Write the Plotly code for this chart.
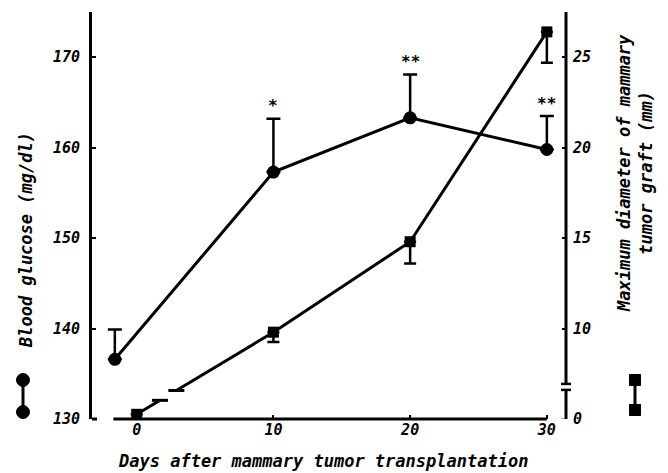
import plotly.graph_objects as go

# ---------------- data ----------------
glucose_days = [-1.6, 10, 20, 30]
glucose_mean = [136.6, 157.3, 163.3, 159.8]          # mg/dl
glucose_sem = [3.3, 5.9, 4.8, 3.7]
signif_marks = ["", "*", "**", "**"]

tumor_days = [0, 10, 20, 30]
tumor_mean = [0.26, 9.8, 14.8, 26.4]                  # mm
tumor_sem = [0.0, 0.55, 1.2, 1.7]

x_tick_vals = [0, 10, 20, 30]
y_tick_vals = [130, 140, 150, 160, 170]
y2_tick_real = [0, 10, 15, 20, 25]

# broken right axis: values below the break are shifted up by BREAK_OFFSET
BREAK_OFFSET = 5.0
BREAK_LEVEL = 5.0


def to_display(v):
    return v + BREAK_OFFSET if v < BREAK_LEVEL else v


tumor_disp = [to_display(v) for v in tumor_mean]
y2_tick_disp = [to_display(v) for v in y2_tick_real]

FONT = "DejaVu Sans Mono"
W, H = 668, 473
L, R, T, B = 92, 102, 12, 54
PW, PH = W - L - R, H - T - B

fig = go.Figure()

fig.add_trace(go.Scatter(
    x=glucose_days, y=glucose_mean, mode="lines+markers",
    line=dict(color="black", width=3),
    marker=dict(symbol="circle", size=13, color="black"),
    error_y=dict(type="data", symmetric=False, array=glucose_sem,
                 arrayminus=[0] * len(glucose_sem), color="black",
                 thickness=2.5, width=7),
    yaxis="y", showlegend=False, cliponaxis=False,
))

fig.add_trace(go.Scatter(
    x=tumor_days, y=tumor_disp, mode="lines+markers",
    line=dict(color="black", width=3),
    marker=dict(symbol="square", size=11, color="black"),
    error_y=dict(type="data", symmetric=False, array=[0] * len(tumor_sem),
                 arrayminus=tumor_sem, color="black",
                 thickness=2.5, width=6),
    yaxis="y2", showlegend=False, cliponaxis=False,
))

txt_font = dict(family=FONT, size=17, color="black", weight="bold", style="italic")
tick_font = dict(family=FONT, size=15, color="black", weight="bold", style="italic")

annotations = []
for d, m, s, mark in zip(glucose_days, glucose_mean, glucose_sem, signif_marks):
    if mark:
        annotations.append(dict(x=d, y=m + s, xref="x", yref="y", text=mark,
                                showarrow=False, yanchor="middle", yshift=13,
                                font=dict(family=FONT, size=16, color="black",
                                          weight="bold")))

annotations += [
    dict(x=(26 - L) / PW, y=(H - B - 240) / PH, xref="paper", yref="paper",
         text="Blood glucose (mg/dl)", textangle=-90, showarrow=False,
         xanchor="center", yanchor="middle", font=txt_font),
    dict(x=(635 - L) / PW, y=(H - B - 173) / PH, xref="paper", yref="paper",
         text="Maximum diameter of mammary<br>tumor graft (mm)", textangle=-90,
         showarrow=False, xanchor="center", yanchor="middle", align="center",
         font=txt_font),
    dict(x=(323 - L) / PW, y=(H - B - 461) / PH, xref="paper", yref="paper",
         text="Days after mammary tumor transplantation", showarrow=False,
         xanchor="center", yanchor="middle", font=txt_font),
]

shapes = []
# x axis line (does not join the left axis)
shapes.append(dict(type="line", xref="x", yref="paper", x0=-1.71, x1=30,
                   y0=0, y1=0, line=dict(color="black", width=3)))
# left axis bottom hook
shapes.append(dict(type="line", xref="paper", yref="paper", x0=0, x1=5 / PW,
                   y0=0, y1=0, line=dict(color="black", width=3)))

# broken right axis
upper_bottom = 6.94
lower_top = 6.61
shapes.append(dict(type="line", xref="paper", yref="y2", x0=1, x1=1,
                   y0=upper_bottom, y1=27.5, line=dict(color="black", width=3)))
shapes.append(dict(type="line", xref="paper", yref="y2", x0=1, x1=1,
                   y0=BREAK_OFFSET - 0.05, y1=lower_top, line=dict(color="black", width=3)))
for yy in (upper_bottom, lower_top):
    shapes.append(dict(type="line", xref="paper", yref="y2", xsizemode="pixel",
                       xanchor=1, x0=-5, x1=5, y0=yy, y1=yy,
                       line=dict(color="black", width=2.5)))
shapes.append(dict(type="line", xref="paper", yref="y2", xsizemode="pixel",
                   xanchor=1, x0=-5, x1=0, y0=BREAK_OFFSET - 0.05,
                   y1=BREAK_OFFSET - 0.05, line=dict(color="black", width=2.5)))

# break marks on the tumor line between day 0 and day 10
x0d, x1d = tumor_days[0], tumor_days[1]
y0d, y1d = tumor_disp[0], tumor_disp[1]
br = []
for f in (0.17, 0.29):
    bx = x0d + f * (x1d - x0d)
    by = y0d + f * (y1d - y0d)
    br.append((bx, by))
shapes.append(dict(type="line", xref="x", yref="y2", x0=br[0][0], x1=br[1][0],
                   y0=br[0][1], y1=br[1][1], line=dict(color="white", width=6)))
for bx, by in br:
    shapes.append(dict(type="line", xref="x", yref="y2", xsizemode="pixel",
                       xanchor=bx, x0=-8, x1=8, y0=by, y1=by,
                       line=dict(color="black", width=3)))

# legend keys
def key(xpx, ytop, ybot, kind, size):
    xa = (xpx - L) / PW
    ya = (H - B - ytop) / PH
    yb = (H - B - ybot) / PH
    out = [dict(type="line", xref="paper", yref="paper", xsizemode="pixel",
                xanchor=xa, x0=0, x1=0, y0=ya, y1=yb,
                line=dict(color="black", width=3))]
    for yy in (ya, yb):
        out.append(dict(type=kind, xref="paper", yref="paper",
                        xsizemode="pixel", ysizemode="pixel",
                        xanchor=xa, yanchor=yy,
                        x0=-size / 2, x1=size / 2, y0=-size / 2, y1=size / 2,
                        fillcolor="black", line=dict(color="black", width=1)))
    return out

shapes += key(23, 380, 412, "circle", 13)
shapes += key(635, 380, 410, "rect", 11)

fig.update_layout(
    width=W, height=H,
    margin=dict(l=L, r=R, t=T, b=B, pad=0),
    paper_bgcolor="white", plot_bgcolor="white",
    font=dict(family=FONT, color="black"),
    xaxis=dict(range=[-3.27, 31.4], tickvals=x_tick_vals, ticks="inside",
               ticklen=4, tickwidth=2, tickcolor="black", showline=False,
               showgrid=False, zeroline=False, tickfont=tick_font),
    yaxis=dict(range=[130, 175.0], tickvals=y_tick_vals, ticks="inside",
               ticklen=4, tickwidth=2, tickcolor="black", showline=True,
               linewidth=3, linecolor="black", showgrid=False, zeroline=False,
               tickfont=tick_font, ticklabelstandoff=6),
    yaxis2=dict(range=[5, 27.5], overlaying="y", side="right",
                tickvals=y2_tick_disp, ticktext=[str(v) for v in y2_tick_real],
                ticks="inside", ticklen=4, tickwidth=2, tickcolor="black",
                showline=False, showgrid=False, zeroline=False,
                tickfont=tick_font, ticklabelstandoff=6),
    annotations=annotations,
    shapes=shapes,
)

fig.write_html("out.html")
